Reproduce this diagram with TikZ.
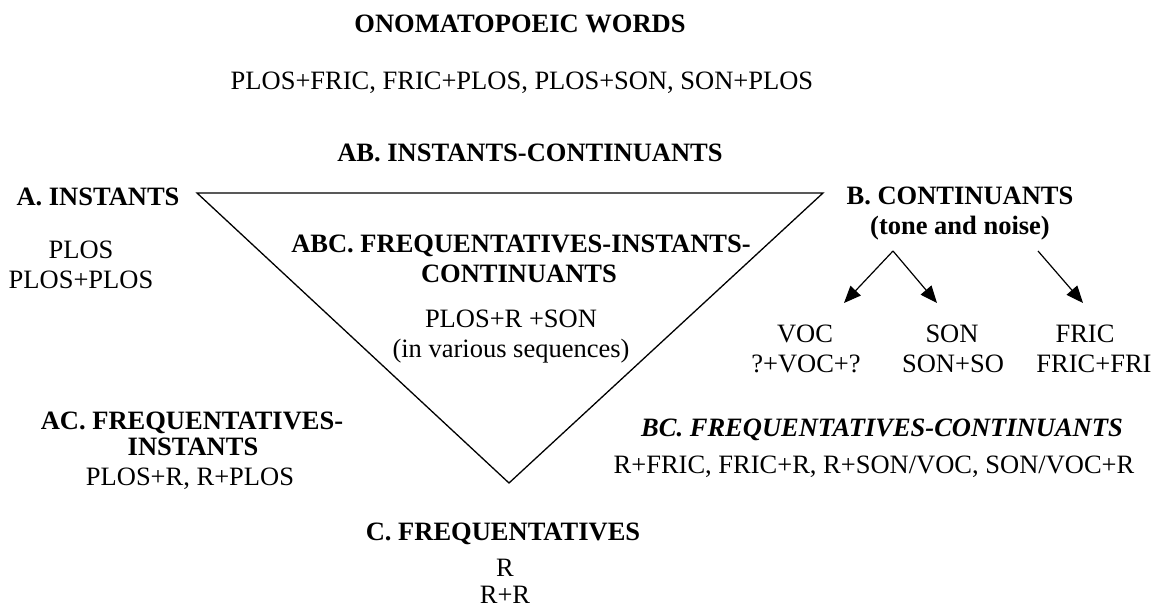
\documentclass[tikz,border=0pt]{standalone}
\usepackage{fontspec}
\setmainfont{Liberation Serif}
\usetikzlibrary{arrows.meta}
\begin{document}
\begin{tikzpicture}[x=1pt,y=-1pt,
  txt/.style={anchor=base,inner sep=0pt,font=\fontsize{26.5}{30}\selectfont},
  btxt/.style={txt,font=\fontsize{26.5}{30}\selectfont\bfseries},
  bitxt/.style={txt,font=\fontsize{26.5}{30}\selectfont\bfseries\itshape},
  tri/.style={line width=1.3pt,line join=miter},
  arr/.style={line width=1.2pt,-{Triangle[length=17pt,width=14pt]}}]
\useasboundingbox (0,0) rectangle (1154,609);
% triangle
\coordinate (tl) at (197,193);
\coordinate (tr) at (823,193);
\coordinate (bt) at (509,483);
\draw[tri] (tl) -- (tr) -- (bt) -- cycle;
% top
\node[btxt] (onom) at (520,33) {ONOMATOPOEIC WORDS};
\node[txt] (onomex) at (522,90) {PLOS+FRIC, FRIC+PLOS, PLOS+SON, SON+PLOS};
\node[btxt] (ab) at (530,162) {AB. INSTANTS-CONTINUANTS};
% A
\node[btxt] (a) at (98,206) {A. INSTANTS};
\node[txt] (a1) at (81,259) {PLOS};
\node[txt] (a2) at (81,289) {PLOS+PLOS};
% ABC
\node[btxt] (abc1) at (521,253) {ABC. FREQUENTATIVES-INSTANTS-};
\node[btxt] (abc2) at (519,283) {CONTINUANTS};
\node[txt] (abc3) at (511,328) {PLOS+R +SON};
\node[txt] (abc4) at (511,358) {(in various sequences)};
% B
\node[btxt] (b1) at (960,205) {B. CONTINUANTS};
\node[btxt] (b2) at (960,235) {(tone and noise)};
\node[txt] (voc) at (805,343) {VOC};
\node[txt] (voc2) at (806,373) {?+VOC+?};
\node[txt] (son) at (952,343) {SON};
\node[txt] (son2) at (953,373) {SON+SO};
\node[txt] (fric) at (1085,343) {FRIC};
\node[txt] (fric2) at (1094,373) {FRIC+FRI};
\coordinate (s1) at (893,251);
\coordinate (e1) at (844,303);
\coordinate (e2) at (937,303);
\coordinate (s3) at (1038,251);
\coordinate (e3) at (1083,303);
\draw[arr] (s1) -- (e1);
\draw[arr] (s1) -- (e2);
\draw[arr] (s3) -- (e3);
% AC
\node[btxt] (ac1) at (192,429) {AC. FREQUENTATIVES-};
\node[btxt] (ac2) at (193,455) {INSTANTS};
\node[txt] (ac3) at (190,485) {PLOS+R, R+PLOS};
% BC
\node[bitxt] (bc1) at (882,436) {BC. FREQUENTATIVES-CONTINUANTS};
\node[txt] (bc2) at (874,473) {R+FRIC, FRIC+R, R+SON/VOC, SON/VOC+R};
% C
\node[btxt] (c1) at (503,540) {C. FREQUENTATIVES};
\node[txt] (c2) at (505,576) {R};
\node[txt] (c3) at (505,603) {R+R};
\end{tikzpicture}
\end{document}
